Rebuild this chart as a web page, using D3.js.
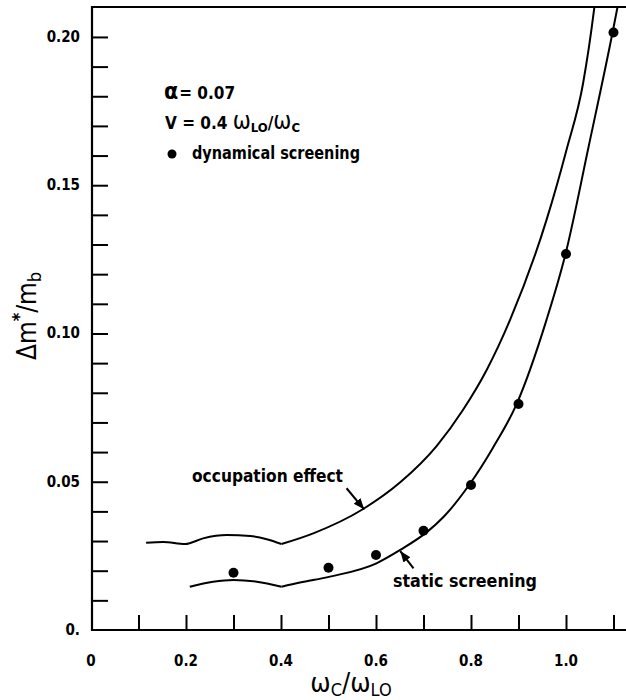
<!DOCTYPE html>
<html>
<head>
<meta charset="utf-8">
<script src="https://cdn.jsdelivr.net/npm/d3@7"></script>
<style>
  body { margin: 0; background: #fff; }
  svg { display: block; }
  text { font-family: "DejaVu Sans Condensed", "Liberation Sans Narrow", "DejaVu Sans", sans-serif; fill: #000; }
</style>
</head>
<body>
<svg class="js-chart" width="626" height="700"></svg>
<script>
var WIDTH = 626,
    HEIGHT = 700,
    svg = d3.select('.js-chart');

// data
var occX = [0.116, 0.152, 0.198, 0.236, 0.286, 0.335, 0.370, 0.401, 0.468, 0.573, 0.651, 0.728, 0.783, 0.833, 0.882, 0.959, 1.001, 1.036, 1.059, 1.062],
    occY = [0.0294, 0.0297, 0.0290, 0.0309, 0.0320, 0.0317, 0.0306, 0.0290, 0.0326, 0.0408, 0.0498, 0.0621, 0.0742, 0.0877, 0.1045, 0.1383, 0.1619, 0.1844, 0.2091, 0.2130];
var statX = [0.208, 0.257, 0.300, 0.349, 0.401, 0.440, 0.503, 0.601, 0.651, 0.707, 0.742, 0.796, 0.846, 0.896, 0.959, 0.999, 1.048, 1.098, 1.112],
    statY = [0.0146, 0.0163, 0.0169, 0.0163, 0.0146, 0.0160, 0.0180, 0.0225, 0.0270, 0.0330, 0.0381, 0.0489, 0.0614, 0.0762, 0.1046, 0.1268, 0.1633, 0.2015, 0.2130];
var dotX = [0.3, 0.5, 0.6, 0.7, 0.8, 0.9, 1.0, 1.1],
    dotY = [0.0193, 0.0210, 0.0253, 0.0335, 0.0489, 0.0762, 0.1268, 0.2015];
var xTickLabels = ['0', '0.2', '0.4', '0.6', '0.8', '1.0'],
    yTickLabels = ['0.', '0.05', '0.10', '0.15', '0.20'];

var x = d3.scaleLinear().domain([0, 1.1]).range([91, 613.5]),
    y = d3.scaleLinear().domain([0, 0.2101]).range([630, 7]);

var plotLeft = 92, plotTop = 7, plotBottom = 630, plotRight = WIDTH;

// ticks
var xMinor = d3.range(1, 12).map(function(i) { return i / 10; }),
    yMinor = d3.range(1, 21).map(function(i) { return i / 100; });

svg.append('g')
    .attr('transform', 'translate(0,' + plotBottom + ')')
    .call(d3.axisBottom(x).tickValues(xMinor).tickSizeInner(-15).tickSizeOuter(0).tickFormat(''))
    .call(function(g) { g.select('.domain').remove(); })
    .selectAll('line').attr('stroke', '#000').attr('stroke-width', 2);

svg.append('g')
    .attr('transform', 'translate(' + plotLeft + ',0)')
    .call(d3.axisLeft(y).tickValues(yMinor).tickSizeInner(-16).tickSizeOuter(0).tickFormat(''))
    .call(function(g) { g.select('.domain').remove(); })
    .selectAll('line').attr('stroke', '#000').attr('stroke-width', 2);

// tick labels
svg.append('g').selectAll('text')
    .data(xTickLabels)
    .enter()
    .append('text')
    .attr('x', function(d) { return x(+d); })
    .attr('y', 666)
    .attr('text-anchor', 'middle')
    .attr('font-size', 15)
    .attr('font-weight', 'bold')
    .text(function(d) { return d; });

svg.append('g').selectAll('text')
    .data(yTickLabels)
    .enter()
    .append('text')
    .attr('x', 80)
    .attr('y', function(d) { return y(parseFloat(d) || 0) + 5; })
    .attr('text-anchor', 'end')
    .attr('font-size', 15)
    .attr('font-weight', 'bold')
    .text(function(d) { return d; });

// frame
svg.append('path')
    .attr('d', 'M' + plotRight + ',' + plotTop + 'H' + plotLeft + 'V' + plotBottom + 'H' + plotRight)
    .attr('fill', 'none')
    .attr('stroke', '#000')
    .attr('stroke-width', 2.2);

svg.append('clipPath').attr('id', 'plot')
  .append('rect')
    .attr('x', plotLeft).attr('y', plotTop)
    .attr('width', plotRight - plotLeft).attr('height', plotBottom - plotTop);

var line = d3.line()
    .x(function(d) { return x(d[0]); })
    .y(function(d) { return y(d[1]); })
    .curve(d3.curveMonotoneX);

// split at the kink near 0.4
function pieces(xs, ys) {
  var pts = xs.map(function(v, i) { return [v, ys[i]]; }),
      k = xs.indexOf(0.401);
  return [pts.slice(0, k + 1), pts.slice(k)];
}

var curves = svg.append('g').attr('clip-path', 'url(#plot)');
pieces(occX, occY).concat(pieces(statX, statY)).forEach(function(p) {
  curves.append('path')
      .attr('d', line(p))
      .attr('fill', 'none')
      .attr('stroke', '#000')
      .attr('stroke-width', 2);
});

svg.append('g').selectAll('circle')
    .data(dotX)
    .enter()
    .append('circle')
    .attr('cx', function(d) { return x(d); })
    .attr('cy', function(d, i) { return y(dotY[i]); })
    .attr('r', 5)
    .attr('fill', '#000');

// arrows
svg.append('defs').append('marker')
    .attr('id', 'head')
    .attr('viewBox', '0 0 10 10')
    .attr('refX', 10).attr('refY', 5)
    .attr('markerWidth', 11).attr('markerHeight', 11)
    .attr('markerUnits', 'userSpaceOnUse')
    .attr('orient', 'auto')
  .append('path')
    .attr('d', 'M0,1L10,5L0,9Z')
    .attr('fill', '#000');

var arrows = [[0.538, 0.0478, 0.575, 0.0407], [0.679, 0.0208, 0.651, 0.0266]];
svg.append('g').selectAll('line')
    .data(arrows)
    .enter()
    .append('line')
    .attr('x1', function(d) { return x(d[0]); })
    .attr('y1', function(d) { return y(d[1]); })
    .attr('x2', function(d) { return x(d[2]); })
    .attr('y2', function(d) { return y(d[3]); })
    .attr('stroke', '#000')
    .attr('stroke-width', 2)
    .attr('marker-end', 'url(#head)');

svg.append('text').attr('x', 192).attr('y', 482).attr('font-size', 18).attr('font-weight', 'bold')
    .attr('textLength', 151).attr('lengthAdjust', 'spacingAndGlyphs').text('occupation effect');
svg.append('text').attr('x', 393).attr('y', 587).attr('font-size', 18).attr('font-weight', 'bold')
    .attr('textLength', 144).attr('lengthAdjust', 'spacingAndGlyphs').text('static screening');

// legend
var leg = svg.append('g').attr('font-size', 17).attr('font-weight', 'bold');
leg.append('text').attr('x', 164).attr('y', 99)
    .html('<tspan font-size="23">α</tspan><tspan dx="1">= 0.07</tspan>');
leg.append('text').attr('x', 165).attr('y', 129)
    .html('V = 0.4 <tspan font-size="24" font-weight="normal">ω</tspan><tspan font-size="13" dy="3">LO</tspan><tspan dy="-3">/</tspan><tspan font-size="24" font-weight="normal">ω</tspan><tspan font-size="13" dy="3">C</tspan>');
leg.append('circle').attr('cx', 172).attr('cy', 154).attr('r', 4.5).attr('fill', '#000');
leg.append('text').attr('x', 192).attr('y', 159)
    .attr('textLength', 168).attr('lengthAdjust', 'spacingAndGlyphs').text('dynamical screening');

// axis titles
svg.append('text')
    .attr('x', 351).attr('y', 692)
    .attr('text-anchor', 'middle')
    .attr('font-size', 27)
    .html('ω<tspan font-size="18" dy="4">C</tspan><tspan dy="-4">/ω</tspan><tspan font-size="18" dy="4">LO</tspan>');

svg.append('text')
    .attr('transform', 'translate(36,316) rotate(-90)')
    .attr('text-anchor', 'middle')
    .attr('font-size', 26)
    .html('Δm<tspan font-size="18" font-weight="bold" dy="-11">*</tspan><tspan dy="11">/m</tspan><tspan font-size="18" dy="5">b</tspan>');
</script>
</body>
</html>
